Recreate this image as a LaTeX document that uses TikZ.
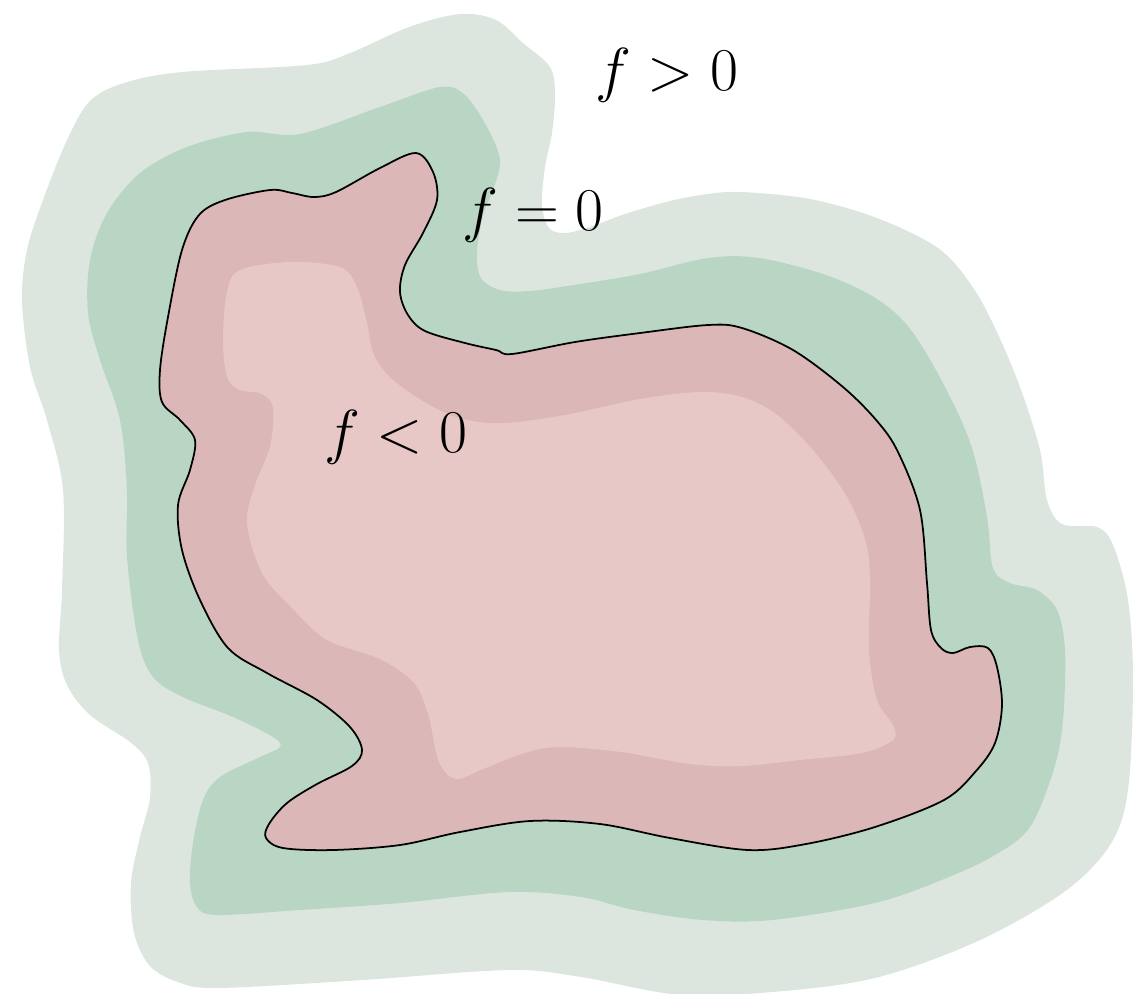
\documentclass[tikz,border=0pt]{standalone}
\usepackage{amsmath}
\usepackage{tikz}
\usepackage{xcolor}
\definecolor{outergreen}{HTML}{DCE6DE}
\definecolor{midgreen}{HTML}{B9D6C5}
\definecolor{rimpink}{HTML}{DBB7B7}
\definecolor{corepink}{HTML}{E7C8C7}
\tikzset{
  region/.style={draw=none, smooth cycle, tension=0.55},
  levellabel/.style={font=\fontsize{19}{22}\selectfont, inner sep=0pt}
}

\begin{document}
\begin{tikzpicture}[x=0.01cm, y=-0.01cm]
			\useasboundingbox (0,0) rectangle (1139,993);
			
			% Outer band, f > 0
			\fill[outergreen] plot[region] coordinates {
				(460,14) (496,20) (523,43) (550,67) (555,95) (552,133) (545,167)
				(542,205) (549,228) (565,233) (590,227) (625,214) (670,201)
				(708,194) (742,192) (810,199) (877,218) (938,248) (972,286)
				(996,330) (1020,387) (1040,450) (1047,500) (1062,524) (1097,527)
				(1113,545) (1128,600) (1133,680) (1128,790) (1110,845) (1064,892)
				(978,941) (875,978) (772,992) (680,995) (581,977)
				(509,970) (363,980) (218,988) (178,982) (150,966) (134,933)
				(131,883) (140,837) (150,798) (148,763) (130,742) (90,715)
				(67,685) (59,650) (62,590) (63,490) (47,420) (30,367) (22,300)
				(27,250) (43,200) (67,140) (90,101) (124,83) (182,72) (307,65)
				(350,53) (409,27)};
			
			% Middle band
			\fill[midgreen] plot[region] coordinates {
				(380,107) (440,87) (465,95) (487,127) (500,160) (493,190)
				(483,215) (477,253) (481,278) (500,290) (530,291) (580,284)
				(640,274) (708,258) (759,258) (826,275) (877,299) (911,330)
				(945,387) (972,448) (987,517) (993,568) (1010,583) (1037,590)
				(1057,610) (1065,650) (1063,720) (1054,769) (1030,827)
				(995,855) (944,879) (875,903) (772,920) (703,920) (634,910)
				(581,897) (509,892) (400,903) (300,910) (217,915) (197,907)
				(190,883) (193,843) (203,800) (220,777) (260,757) (280,747)
				(273,737) (233,717) (183,697) (153,677) (138,640) (127,557)
				(127,490) (120,420) (100,360) (88,313) (90,260) (107,213)
				(140,173) (187,147) (247,132) (300,134)};
			
			% Zero level set
			\filldraw[fill=rimpink, draw=black, line width=0.5pt] plot[smooth cycle, tension=0.55] coordinates {
				(416,153) (433,172) (437,200) (423,233) (405,265) (400,292)
				(408,315) (425,331) (465,343) (496,350) (512,354) (575,342)
				(640,333) (708,325) (742,328) (793,350) (843,387) (877,421)
				(898,452) (920,510) (927,583) (931,630) (941,648) (953,653)
				(970,647) (988,648) (997,667) (1002,705) (995,743) (976,771)
				(944,800) (875,827) (806,844) (748,850) (670,838) (600,824)
				(530,821) (460,832) (400,845) (333,850)
				(283,848) (266,838) (269,824) (287,803) (317,784) (352,766)
				(362,750) (350,727) (317,700) (267,673) (228,648) (200,600)
				(182,550) (178,505) (190,470) (195,440) (180,420) (162,402)
				(160,370) (168,317) (182,250) (199,215) (225,200) (270,190)
				(292,193) (314,197) (336,192) (380,168)};
			
			% Inner band
			\fill[corepink] plot[region] coordinates {
				(240,270) (290,262) (340,267) (357,287) (367,323) (374,355)
				(393,380) (433,407) (467,420) (505,423) (565,415) (640,399)
				(701,392) (742,397) (776,414) (813,450) (847,497) (866,543)
				(870,583) (869,650) (877,700) (893,725) (893,740) (862,753)
				(800,760) (742,766) (690,764) (621,752) (559,747) (525,753)
				(483,769) (456,779) (439,762) (428,714) (414,683) (380,659)
				(327,640) (291,607) (262,573) (247,523) (255,485) (270,447)
				(273,408) (262,394) (240,390) (227,377) (223,340) (227,292)};
			
			% Labels
			\node[levellabel] (fpos) at (667,75) {$f > 0$};
			\node[levellabel] (fzero) at (533,215) {$f = 0$};
			\node[levellabel] (fneg) at (396,437) {$f < 0$};
			
		\end{tikzpicture}
\end{document}
